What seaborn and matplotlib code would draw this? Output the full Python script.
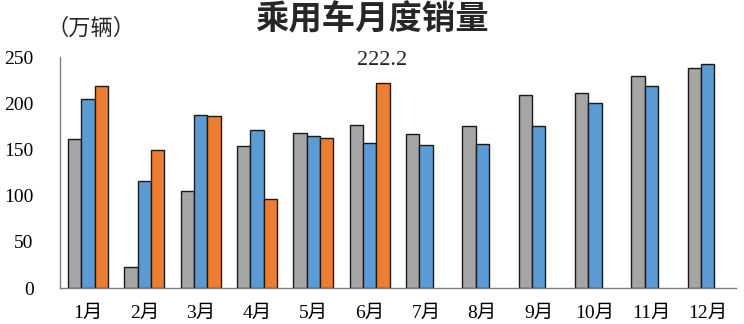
import matplotlib
matplotlib.use("Agg")
import matplotlib.pyplot as plt
import seaborn as sns
import pandas as pd
import numpy as np

months = ["1月", "2月", "3月", "4月", "5月", "6月", "7月", "8月", "9月", "10月", "11月", "12月"]
years = ["2020年", "2021年", "2022年"]
v2020 = [161.3, 22.7, 105.3, 153.7, 167.4, 176.4, 166.3, 175.3, 208.9, 211.0, 229.8, 237.7]
v2021 = [204.5, 115.8, 187.2, 171.0, 164.5, 157.0, 154.8, 155.5, 175.3, 200.6, 219.0, 242.4]
v2022 = [218.6, 149.0, 186.5, 96.7, 162.7, 222.2, np.nan, np.nan, np.nan, np.nan, np.nan, np.nan]
colors = ["#A5A5A5", "#5B9BD5", "#ED7D31"]
yticks = [0, 50, 100, 150, 200, 250]

rows = []
for y, vals in zip(years, [v2020, v2021, v2022]):
    for m, v in zip(months, vals):
        rows.append({"month": m, "year": y, "value": v})
df = pd.DataFrame(rows)

sns.set_theme(style="white")
plt.rcParams['font.family'] = ['Liberation Serif', 'Noto Sans CJK SC', 'DejaVu Sans']

fig = plt.figure(figsize=(7.44, 3.24), dpi=100)
ax = fig.add_axes([0.0806, 0.111, 0.9084, 0.713])
sns.barplot(data=df, x="month", y="value", hue="year", order=months, hue_order=years,
            palette=colors, width=0.71, edgecolor="#1a1a1a", linewidth=1.0,
            legend=False, ax=ax, errorbar=None, saturation=1)
ax.set_ylim(0, 250)
ax.set_xlim(-0.5, 11.5)
ax.set_yticks(yticks)
ax.set_yticklabels([str(t) for t in yticks])
ax.tick_params(axis='both', length=0, labelsize=14, colors="black")
ax.tick_params(axis='y', pad=19)
ax.tick_params(axis='x', pad=12)
ax.set_xlabel("")
ax.set_ylabel("")
for s in ["top", "right"]:
    ax.spines[s].set_visible(False)
for s in ["left", "bottom"]:
    ax.spines[s].set_color("#7f7f7f")
    ax.spines[s].set_linewidth(1.0)

# annotate 222.2 above June 2022 bar
jun_idx = months.index("6月")
ax.text(jun_idx + 0.22, 246.5, "222.2", ha="center", va="center",
        fontsize=16, family=['Liberation Serif'], clip_on=False)

fig.text(0.5, 0.938, "乘用车月度销量", ha="center", va="center", fontsize=24,
         fontweight="heavy", family=['Noto Sans CJK SC'])
fig.text(0.062, 0.912, "（万辆）", ha="left", va="center", fontsize=16,
         family=['Noto Sans CJK SC'])

fig.savefig("out.png", dpi=100)
